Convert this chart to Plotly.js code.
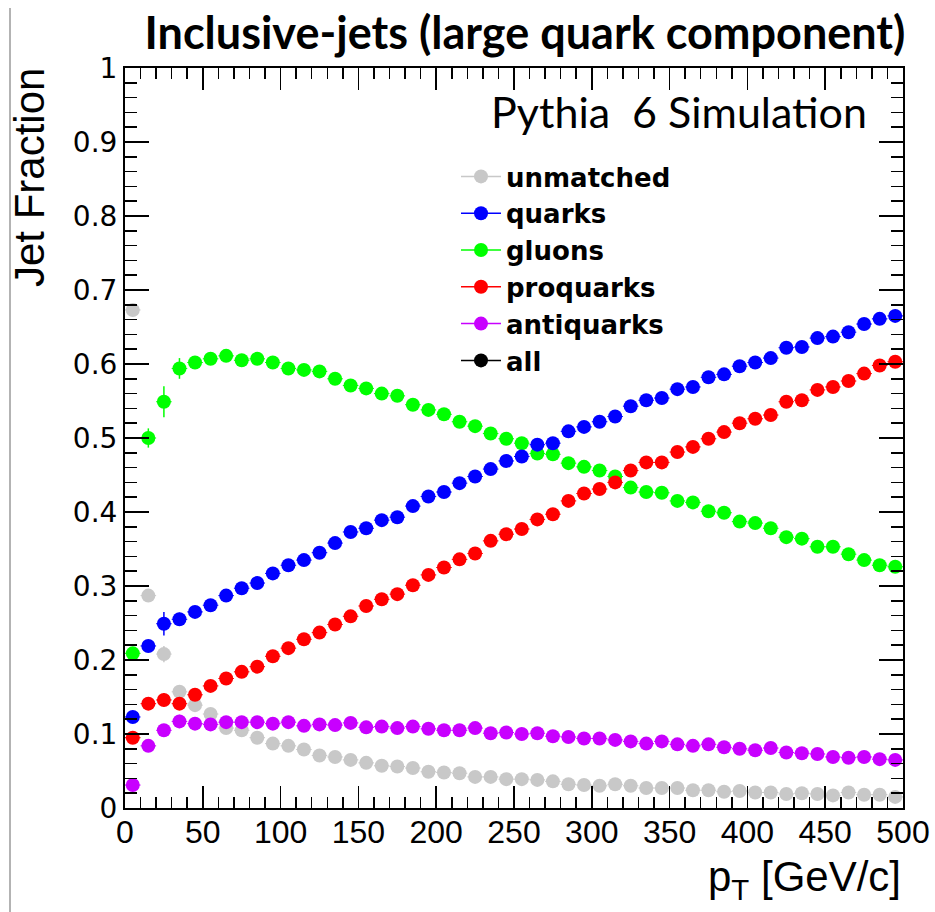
<!DOCTYPE html>
<html><head><meta charset="utf-8">
<script src="https://cdn.plot.ly/plotly-3.0.1.min.js"></script>
<style>body{margin:0;background:#fff}#plot{width:935px;height:912px}</style>
</head><body><div id="plot"></div>
<script>
// pT bin centres (GeV/c), 10 GeV bins
const ptBins = [5,15,25,35,45,55,65,75,85,95,105,115,125,135,145,155,165,175,185,195,
  205,215,225,235,245,255,265,275,285,295,305,315,325,335,345,355,365,375,385,395,
  405,415,425,435,445,455,465,475,485,495];

const unmatched = [0.673,0.287,0.208,0.157,0.139,0.127,0.108,0.105,0.095,0.087,
  0.084,0.079,0.071,0.069,0.065,0.061,0.057,0.056,0.054,0.049,
  0.048,0.047,0.042,0.042,0.039,0.039,0.038,0.036,0.032,0.031,
  0.030,0.032,0.030,0.027,0.027,0.027,0.024,0.024,0.022,0.023,
  0.021,0.021,0.019,0.020,0.019,0.017,0.021,0.018,0.018,0.015];
const unmatchedErr = [0.004,0.005,0.011,0.006,0.004,0.004,0.003,0.003,0.003,0.003,
  0.003,0.003,0.002,0.002,0.002,0.002,0.002,0.002,0.002,0.002,
  0.002,0.002,0.002,0.002,0.002,0.002,0.002,0.002,0.002,0.002,
  0.002,0.002,0.002,0.002,0.002,0.002,0.002,0.002,0.002,0.002,
  0.002,0.002,0.002,0.002,0.002,0.002,0.002,0.002,0.002,0.002];

const quarks = [0.123,0.219,0.249,0.255,0.265,0.274,0.287,0.297,0.304,0.317,
  0.328,0.335,0.345,0.358,0.373,0.378,0.389,0.393,0.408,0.421,
  0.427,0.439,0.448,0.458,0.469,0.475,0.491,0.493,0.509,0.515,
  0.522,0.529,0.543,0.551,0.554,0.566,0.569,0.582,0.586,0.597,
  0.602,0.608,0.622,0.623,0.635,0.637,0.643,0.654,0.661,0.665];
const quarksErr = [0.004,0.006,0.016,0.009,0.005,0.004,0.004,0.004,0.004,0.004,
  0.004,0.004,0.004,0.004,0.004,0.004,0.004,0.004,0.004,0.004,
  0.004,0.004,0.004,0.004,0.004,0.004,0.004,0.004,0.004,0.004,
  0.004,0.004,0.004,0.004,0.004,0.004,0.004,0.004,0.004,0.004,
  0.004,0.004,0.004,0.004,0.004,0.004,0.004,0.004,0.004,0.004];

const gluons = [0.209,0.500,0.549,0.594,0.602,0.607,0.611,0.605,0.607,0.602,
  0.594,0.592,0.590,0.580,0.571,0.567,0.560,0.557,0.545,0.538,
  0.532,0.522,0.516,0.506,0.499,0.493,0.479,0.478,0.466,0.461,
  0.456,0.448,0.433,0.427,0.426,0.415,0.413,0.401,0.399,0.387,
  0.385,0.378,0.366,0.364,0.353,0.353,0.343,0.335,0.328,0.326];
const gluonsErr = [0.004,0.013,0.021,0.014,0.006,0.005,0.004,0.004,0.004,0.004,
  0.004,0.004,0.004,0.004,0.004,0.004,0.004,0.004,0.004,0.004,
  0.004,0.004,0.004,0.004,0.004,0.004,0.004,0.004,0.004,0.004,
  0.004,0.004,0.004,0.004,0.004,0.004,0.004,0.004,0.004,0.004,
  0.004,0.004,0.004,0.004,0.004,0.004,0.004,0.004,0.004,0.004];

const proquarks = [0.095,0.141,0.146,0.141,0.153,0.165,0.175,0.184,0.191,0.205,
  0.216,0.228,0.237,0.248,0.259,0.273,0.282,0.289,0.301,0.315,
  0.325,0.336,0.344,0.361,0.370,0.377,0.390,0.397,0.415,0.425,
  0.431,0.440,0.456,0.467,0.467,0.481,0.488,0.499,0.508,0.520,
  0.526,0.531,0.549,0.551,0.565,0.569,0.577,0.587,0.598,0.603];
const proquarksErr = [0.004,0.005,0.009,0.006,0.004,0.004,0.004,0.004,0.004,0.004,
  0.004,0.004,0.004,0.004,0.004,0.004,0.004,0.004,0.004,0.004,
  0.004,0.004,0.004,0.004,0.004,0.004,0.004,0.004,0.004,0.004,
  0.004,0.004,0.004,0.004,0.004,0.004,0.004,0.004,0.004,0.004,
  0.004,0.004,0.004,0.004,0.004,0.004,0.004,0.004,0.004,0.004];

const antiquarks = [0.031,0.084,0.105,0.117,0.114,0.113,0.116,0.116,0.116,0.114,
  0.116,0.111,0.113,0.112,0.115,0.109,0.110,0.108,0.110,0.107,
  0.105,0.105,0.108,0.101,0.102,0.100,0.101,0.097,0.096,0.094,
  0.094,0.092,0.090,0.087,0.090,0.086,0.084,0.086,0.082,0.080,
  0.078,0.081,0.075,0.074,0.073,0.069,0.068,0.069,0.066,0.065];
const antiquarksErr = [0.003,0.004,0.006,0.009,0.004,0.003,0.003,0.003,0.003,0.003,
  0.003,0.003,0.003,0.003,0.003,0.003,0.003,0.003,0.003,0.003,
  0.003,0.003,0.003,0.003,0.003,0.003,0.003,0.003,0.003,0.003,
  0.003,0.003,0.003,0.003,0.003,0.003,0.003,0.003,0.003,0.003,
  0.003,0.003,0.003,0.003,0.003,0.003,0.003,0.003,0.003,0.003];

const allJets = []; // "all" appears only in the legend

const xTickVals = [0,50,100,150,200,250,300,350,400,450,500];
const xTickText = ['0','50','100','150','200','250','300','350','400','450','500'];

const seriesNames = ['unmatched','quarks','gluons','proquarks','antiquarks','all'];
const seriesColors = ['#c8c8c8','#0000ff','#00ff00','#ff0000','#c800ff','#000000'];
const seriesData = [unmatched, quarks, gluons, proquarks, antiquarks, allJets];
const seriesErr = [unmatchedErr, quarksErr, gluonsErr, proquarksErr, antiquarksErr, []];
const drawOrder = [0, 2, 1, 3, 4, 5];
const halfBin = 5;

const traces = [];
drawOrder.forEach(i => {
  traces.push({
    type: 'scatter', mode: 'markers', name: seriesNames[i], legendgroup: seriesNames[i],
    showlegend: false,
    x: ptBins.slice(0, seriesData[i].length), y: seriesData[i],
    marker: {color: seriesColors[i], size: 14, line: {width: 0}},
    error_y: {type: 'data', array: seriesErr[i], color: seriesColors[i], thickness: 1.5, width: 0},
    error_x: {type: 'constant', value: halfBin, color: seriesColors[i], thickness: 1, width: 0},
    hoverinfo: 'x+y+name'
  });
});
seriesNames.forEach((n, i) => {
  traces.push({
    type: 'scatter', mode: 'lines+markers', name: n, legendgroup: n, showlegend: true,
    x: [null], y: [null],
    marker: {color: seriesColors[i], size: 14},
    line: {color: seriesColors[i], width: 1.5}
  });
});

const L = 125, R = 32, T = 68, B = 104, W = 935, H = 912;
const pw = W - L - R, ph = H - T - B;
const px = v => (v - L) / pw;
const py = v => (H - B - v) / ph;

const layout = {
  width: W, height: H,
  margin: {l: L, r: R, t: T, b: B, pad: 0},
  paper_bgcolor: '#fff', plot_bgcolor: '#fff',
  showlegend: true,
  title: {text: '<b>Inclusive-jets (large quark component)</b>',
    font: {family: 'Lato, Open Sans, sans-serif', size: 45, color: '#000'},
    x: 525 / W, xanchor: 'center', xref: 'container', y: 1 - 33 / H, yanchor: 'middle', yref: 'container'},
  xaxis: {
    range: [0, 500], tickmode: 'array', tickvals: xTickVals, ticktext: xTickText, tickangle: 0,
    ticks: 'inside', ticklen: 22, tickwidth: 1.5, tickcolor: '#000', ticklabelstandoff: -5,
    showline: true, linecolor: '#000', linewidth: 2, mirror: 'ticks', showgrid: false, zeroline: false,
    minor: {dtick: 10, tick0: 0, ticks: 'inside', ticklen: 11, tickwidth: 1.5, tickcolor: '#000', showgrid: false},
    tickfont: {family: 'Liberation Sans, Arial, sans-serif', size: 32, color: '#000'}
  },
  yaxis: {
    range: [0, 1], tick0: 0, dtick: 0.1, ticks: 'inside', ticklen: 24, tickwidth: 1.5, tickcolor: '#000',
    showline: true, linecolor: '#000', linewidth: 2, mirror: 'ticks', showgrid: false, zeroline: false,
    minor: {dtick: 0.02, ticks: 'inside', ticklen: 12, tickwidth: 1.5, tickcolor: '#000', showgrid: false},
    tickfont: {family: 'DejaVu Sans, Liberation Sans, Arial', size: 28, color: '#000'}
  },
  legend: {
    x: px(456), y: py(153), xanchor: 'left', yanchor: 'top',
    bgcolor: 'rgba(0,0,0,0)', borderwidth: 0, tracegroupgap: 0, itemwidth: 40,
    font: {family: 'DejaVu Sans, Liberation Sans, Arial, sans-serif', size: 26, color: '#000', weight: 'bold'}
  },
  annotations: [
    {text: 'Pythia\u00a0 6 Simulation', xref: 'paper', yref: 'paper', x: px(869), y: py(112),
      xanchor: 'right', yanchor: 'middle', showarrow: false,
      font: {family: 'Lato, Open Sans, sans-serif', size: 43, color: '#000'}},
    {text: 'Jet Fraction', xref: 'paper', yref: 'paper', x: px(29), y: py(178), textangle: -90,
      xanchor: 'center', yanchor: 'middle', showarrow: false,
      font: {family: 'Liberation Sans, Arial, sans-serif', size: 42, color: '#000'}},
    {text: 'p<sub>T</sub> [GeV/c]', xref: 'paper', yref: 'paper', x: 1, y: py(879),
      xanchor: 'right', yanchor: 'middle', showarrow: false,
      font: {family: 'Liberation Sans, Arial, sans-serif', size: 42, color: '#000'}}
  ],
  shapes: [
    {type: 'line', xref: 'paper', yref: 'paper', x0: px(10), x1: px(10), y0: py(H), y1: py(8),
      line: {color: '#9a9a9a', width: 1.5}}
  ]
};

Plotly.newPlot('plot', traces, layout, {displayModeBar: false, staticPlot: true});
</script>
</body></html>
